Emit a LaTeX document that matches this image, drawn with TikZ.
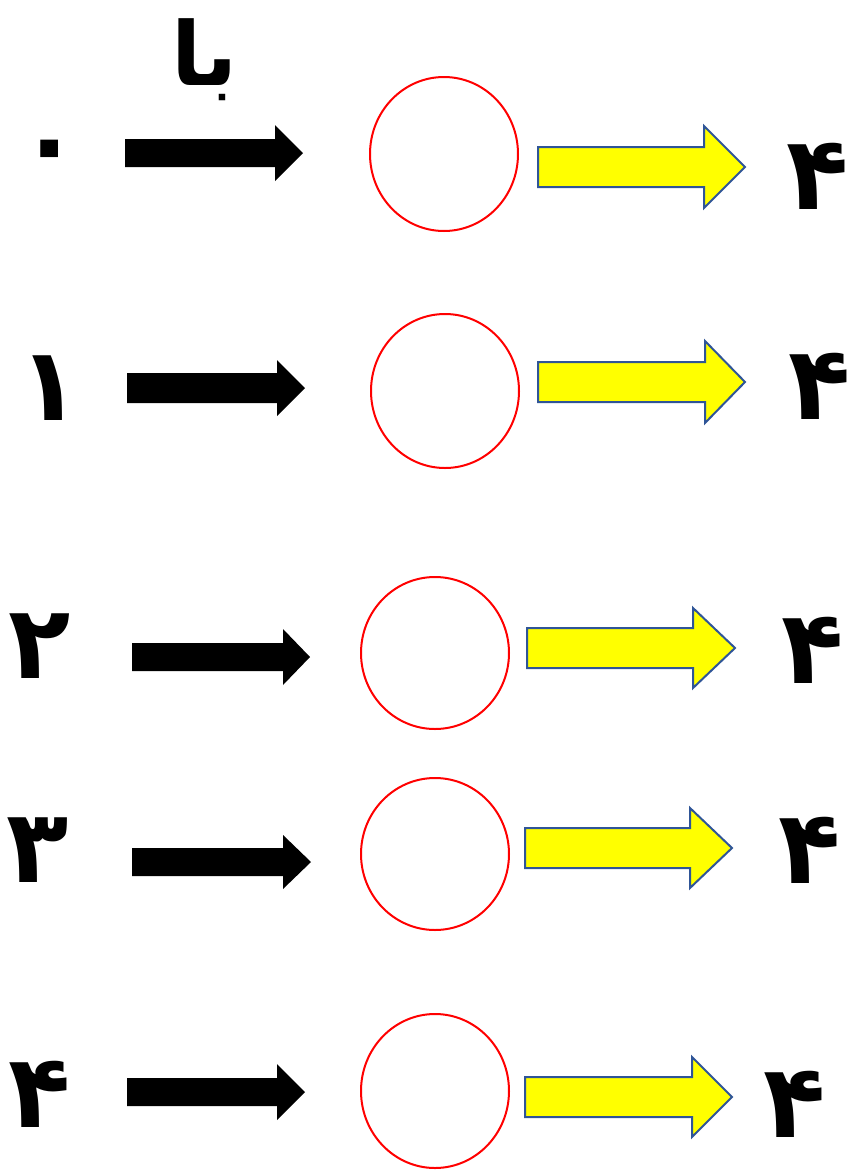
\documentclass[tikz,border=0pt]{standalone}
\usepackage{fontspec}
\usetikzlibrary{shapes.geometric}
\newfontfamily\fa[Script=Arabic]{DejaVu Sans}
\TeXXeTstate=1
\definecolor{arrowblue}{HTML}{2F5597}
\definecolor{circred}{RGB}{255,0,0}
\definecolor{ylw}{RGB}{255,255,0}
\tikzset{
  blackarrow/.style={fill=black, draw=none},
  yellowarrow/.style={fill=ylw, draw=arrowblue, line width=2pt, line join=miter},
  circ/.style={draw=circred, line width=2pt, fill=white, ellipse, inner sep=0pt},
  digit/.style={font=\fa\fontsize{102}{108}\selectfont\bfseries, inner sep=0pt},
  word/.style={font=\fa\fontsize{88}{92}\selectfont\bfseries, inner sep=0pt},
}
% style, x-start, x-head, x-tip, y-centre, half shaft, half head
\newcommand\blockarrow[7]{%
  \draw[#1] (#2,#5-#6) -- (#3,#5-#6) -- (#3,#5-#7) -- (#4,#5) -- (#3,#5+#7) -- (#3,#5+#6) -- (#2,#5+#6) -- cycle;}
\begin{document}
\begin{tikzpicture}[x=1pt,y=-1pt]
\useasboundingbox (0,0) rectangle (853,1173);
% title
\node[word] (ba) at (205,60) {\beginR با\endR};
% left digits
\node[digit] (l0) at (50,159) {۰};
\node[digit] (l1) at (50,388) {۱};
\node[digit] (l2) at (40,646) {۲};
\node[digit] (l3) at (38,850) {۳};
\node[digit] (l4) at (40,1094) {۴};
% right digits
\node[digit] (r0) at (818,176) {۴};
\node[digit] (r1) at (820,386) {۴};
\node[digit] (r2) at (813,650) {۴};
\node[digit] (r3) at (810,850) {۴};
\node[digit] (r4) at (795,1104) {۴};
% circles
\node[circ, minimum width=148pt, minimum height=154pt] (c0) at (444,154) {};
\node[circ, minimum width=148pt, minimum height=154pt] (c1) at (445,391) {};
\node[circ, minimum width=148pt, minimum height=152pt] (c2) at (435,653) {};
\node[circ, minimum width=148pt, minimum height=152pt] (c3) at (435,854) {};
\node[circ, minimum width=148pt, minimum height=154pt] (c4) at (435,1091) {};
% black arrows
\blockarrow{blackarrow}{125}{275}{303}{153}{14}{28}
\blockarrow{blackarrow}{127}{277}{305}{388}{15}{28}
\blockarrow{blackarrow}{132}{283}{310}{657}{14}{28}
\blockarrow{blackarrow}{132}{283}{311}{862}{14}{27}
\blockarrow{blackarrow}{127}{277}{305}{1092}{14}{28}
% yellow arrows
\blockarrow{yellowarrow}{538}{704}{745}{167}{20}{41}
\blockarrow{yellowarrow}{538}{705}{745}{382}{20}{41}
\blockarrow{yellowarrow}{527}{693}{735}{648}{20}{40}
\blockarrow{yellowarrow}{525}{690}{732}{848}{20}{40}
\blockarrow{yellowarrow}{525}{692}{732}{1097}{20}{40}
\end{tikzpicture}
\end{document}
